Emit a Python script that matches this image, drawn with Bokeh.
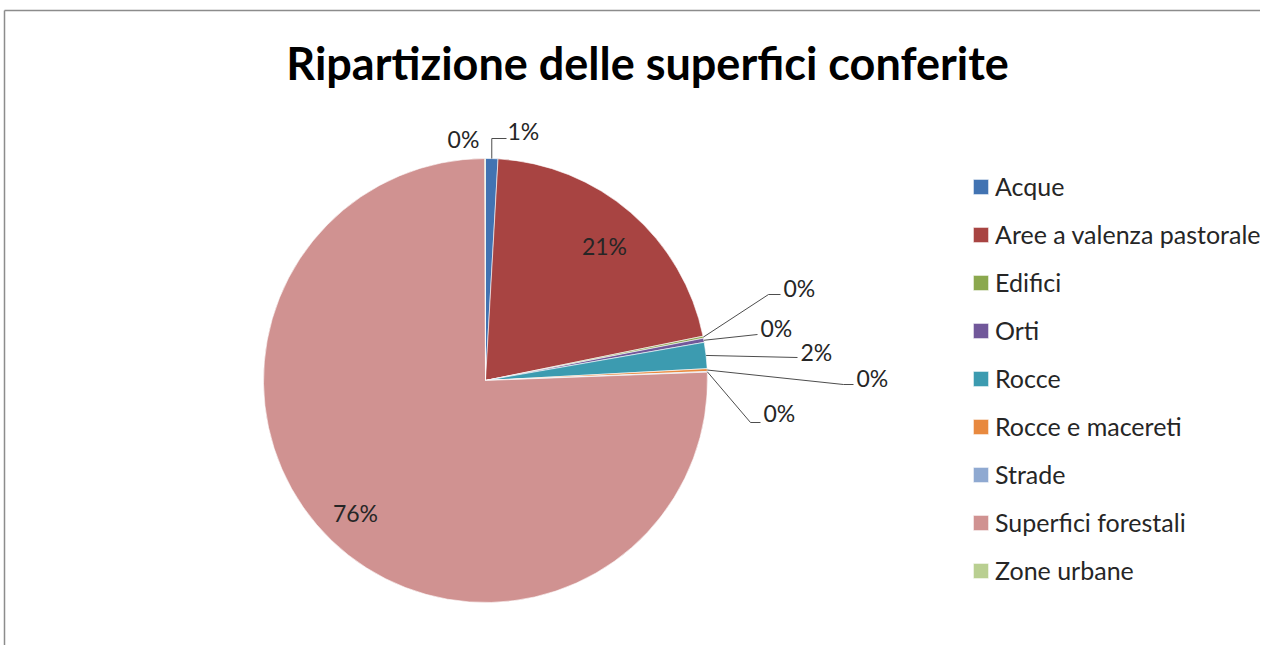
import math
from bokeh.plotting import figure
from bokeh.models import Legend, LegendItem, ColumnDataSource, Label
from bokeh.embed import file_html
from bokeh.resources import INLINE
from bokeh.core.properties import value

# ---------------- data ----------------
categories = ["Acque", "Aree a valenza pastorale", "Edifici", "Orti", "Rocce",
              "Rocce e macereti", "Strade", "Superfici forestali", "Zone urbane"]
shares = [0.9, 20.9, 0.15, 0.3, 1.9, 0.2, 0.05, 75.55, 0.05]
colors = ["#4273B2", "#A84442", "#8BA84E", "#71589A", "#3C9BB0",
          "#E8893F", "#8FA9D1", "#D09291", "#B9CF91"]
title_text = "Ripartizione delle superfici conferite"

# ---------------- layout ----------------
W, H = 1260, 645
FONT = "Lato"

def fx(px):
    return px

def fy(py):
    return H - py

CX, CY, R = fx(485), fy(380), 222

# label layout: (mode, text anchor x, y, leader elbow points) in picture pixels
label_layout = [
    ("left", 507, 130, [("edge_x", 138), (506, 138)]),
    ("center", 604, 245, None),
    ("left", 783, 287, [(768, 294), (780, 294)]),
    ("left", 760, 327, [(757, 334)]),
    ("left", 800, 351, [(797, 357)]),
    ("left", 856, 377, [(843, 384), (853, 384)]),
    ("left", 763, 412, [(750, 422), (760, 422)]),
    ("center", 355, 512, None),
    ("center", 463, 138, None),
]

total = float(sum(shares))
starts, ends, mids = [], [], []
cum = 0.0
for v in shares:
    a0 = math.pi / 2 - 2 * math.pi * cum / total
    cum += v
    a1 = math.pi / 2 - 2 * math.pi * cum / total
    starts.append(a0)
    ends.append(a1)
    mids.append((a0 + a1) / 2)
pct_text = [f"{round(100 * v / total)}%" for v in shares]

src = ColumnDataSource(dict(start=starts, end=ends, color=colors, name=categories,
                            x=[CX] * len(shares), y=[CY] * len(shares)))

p = figure(width=W, height=H, x_range=(0, W), y_range=(0, H),
           output_backend="svg", toolbar_location=None, min_border=0)
p.axis.visible = False
p.grid.visible = False
p.outline_line_color = None
p.background_fill_color = "white"
p.border_fill_color = "white"

# chart border (decoration)
p.segment(x0=[fx(4), fx(4)], y0=[fy(10), fy(10)], x1=[W + 5, fx(4)], y1=[fy(10), -5],
          line_color="#8C8C8C", line_width=1.5)

r = p.wedge(x="x", y="y", radius=R, start_angle="start", end_angle="end",
            direction="clock", fill_color="color", line_color="white",
            line_width=0.6, source=src)

# leaders and labels
lx, ly, ltext = [], [], []
cxs, cys, ctext = [], [], []
mxs, mys = [], []
for i, (mode, tx, ty, elbows) in enumerate(label_layout):
    if mode == "left":
        lx.append(fx(tx)); ly.append(fy(ty)); ltext.append(pct_text[i])
    else:
        cxs.append(fx(tx)); cys.append(fy(ty)); ctext.append(pct_text[i])
    if elbows:
        ex = CX + R * math.cos(mids[i])
        ey = CY + R * math.sin(mids[i])
        xs, ys = [ex], [ey]
        for (px_, py_) in elbows:
            xs.append(ex if px_ == "edge_x" else fx(px_))
            ys.append(fy(py_))
        mxs.append(xs); mys.append(ys)

p.multi_line(xs=mxs, ys=mys, line_color="#4D4D4D", line_width=1)
p.text(x=lx, y=ly, text=ltext, text_align="left", text_baseline="middle",
       text_font=value(FONT), text_font_size="23px", text_color="#262626")
p.text(x=cxs, y=cys, text=ctext, text_align="center", text_baseline="middle",
       text_font=value(FONT), text_font_size="23px", text_color="#262626")

p.add_layout(Label(x=fx(647), y=fy(62), text=title_text, text_align="center",
                   text_baseline="middle", text_font=FONT, text_font_style="bold",
                   text_font_size="45px", text_color="#000000"))

items = [LegendItem(label=categories[i], renderers=[r], index=i) for i in range(len(categories))]
legend = Legend(items=items, location=(fx(971), 59), padding=0, margin=0,
                glyph_width=19, glyph_height=19, label_height=32, spacing=16,
                label_standoff=5, label_text_font=FONT, label_text_font_size="25px",
                label_text_color="#262626", border_line_color=None,
                background_fill_alpha=0)
p.add_layout(legend, "center")

open("out.html", "w").write(file_html(p, INLINE))
